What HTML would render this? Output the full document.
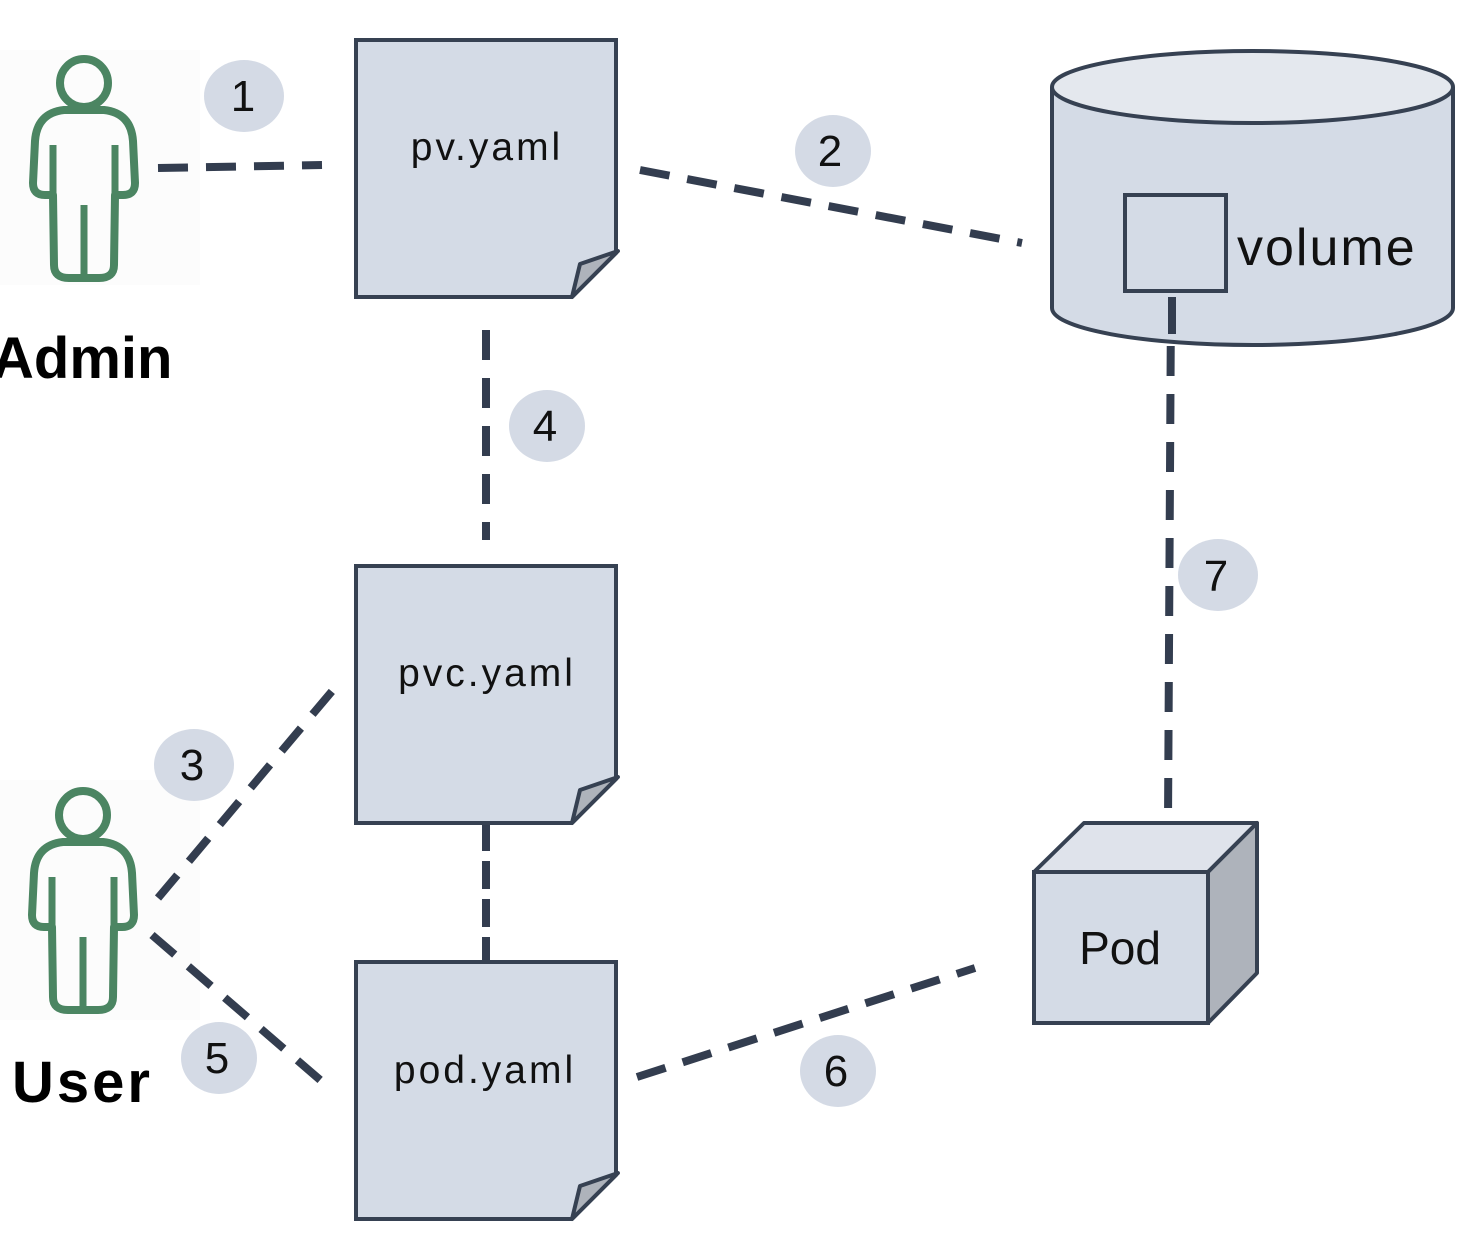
<!DOCTYPE html>
<html><head><meta charset="utf-8"><style>html,body{margin:0;padding:0;background:#fff}svg{display:block}</style></head>
<body>
<svg width="1474" height="1240" viewBox="0 0 1474 1240" xmlns="http://www.w3.org/2000/svg" font-family="Liberation Sans, sans-serif">
<defs>
<g id="person" fill="none" stroke="#4b8562" stroke-width="8" stroke-linejoin="round">
<circle cx="0" cy="0" r="24"/>
<path d="M -20,27 Q -47,30 -49,58 L -51,100 Q -51,112 -39,112 L -31,112 L -30,182 Q -30,195 -15,195 L 15,195 Q 30,195 30,182 L 31,112 L 39,112 Q 51,112 51,100 L 49,58 Q 47,30 20,27 Z"/>
<path d="M -31,62 L -31,112 M 31,62 L 31,112 M 0,122 L 0,195" stroke-width="7"/>
</g>
<g id="doc">
<path d="M356,0 H616 V213 L572,257 H356 Z" fill="#d4dbe6" stroke="#364152" stroke-width="4"/>
<path d="M572,257 L580,224 L618,211 Z" fill="#aeb3bb" stroke="#364152" stroke-width="4" stroke-linejoin="round"/>
</g>
</defs>
<rect x="0" y="50" width="200" height="235" fill="#fcfcfc"/>
<rect x="0" y="780" width="200" height="240" fill="#fcfcfc"/>
<use href="#person" x="84" y="83"/>
<use href="#person" x="83" y="815"/>
<text x="-8" y="378" font-size="58" font-weight="bold" fill="#000">Admin</text>
<text x="12" y="1102" font-size="58" font-weight="bold" fill="#000" letter-spacing="3">User</text>

<g stroke="#333d4f" stroke-width="8" fill="none" stroke-dasharray="30 18">
<line x1="158" y1="168" x2="322" y2="165"/>
<line x1="640" y1="170" x2="1022" y2="243"/>
<line x1="486" y1="330" x2="486" y2="540"/>
<line x1="158" y1="898" x2="333" y2="690"/>
<line x1="152" y1="935" x2="326" y2="1085"/>
<line x1="637" y1="1077" x2="975" y2="968"/>
<line x1="1171" y1="298" x2="1168" y2="822"/>
<line x1="486" y1="823" x2="486" y2="964" stroke-dasharray="28 10"/>
</g>

<use href="#doc" x="0" y="40"/>
<use href="#doc" x="0" y="566"/>
<use href="#doc" x="0" y="962"/>
<g font-size="39" fill="#111" text-anchor="middle" letter-spacing="3">
<text x="487" y="160">pv.yaml</text>
<text x="487" y="686">pvc.yaml</text>
<text x="485" y="1083">pod.yaml</text>
</g>

<path d="M1052,87 V308 A200.5,37 0 0 0 1453,308 V87" fill="#d4dbe6" stroke="#364152" stroke-width="4"/>
<ellipse cx="1252.5" cy="87" rx="200.5" ry="36" fill="#e4e8ee" stroke="#364152" stroke-width="4"/>
<rect x="1125" y="195" width="101" height="96" fill="#d4dbe6" stroke="#364152" stroke-width="4"/>
<text x="1237" y="265" font-size="52" fill="#111" letter-spacing="2">volume</text>
<line x1="1172" y1="297" x2="1172" y2="334" stroke="#333d4f" stroke-width="8"/>

<path d="M1034,872 L1084,823 H1257 L1208,872 Z" fill="#dfe3eb" stroke="#364152" stroke-width="4" stroke-linejoin="round"/>
<path d="M1208,872 L1257,823 V973 L1208,1023 Z" fill="#aeb3bb" stroke="#364152" stroke-width="4" stroke-linejoin="round"/>
<rect x="1034" y="872" width="174" height="151" fill="#d4dbe6" stroke="#364152" stroke-width="4"/>
<text x="1120" y="964" font-size="46" fill="#111" text-anchor="middle">Pod</text>

<g fill="#d4dae5">
<ellipse cx="244" cy="96" rx="40" ry="36"/>
<ellipse cx="833" cy="151" rx="38" ry="36"/>
<ellipse cx="547" cy="426" rx="38" ry="36"/>
<ellipse cx="1218" cy="575" rx="40" ry="36"/>
<ellipse cx="194" cy="765" rx="40" ry="36"/>
<ellipse cx="219" cy="1058" rx="38" ry="36"/>
<ellipse cx="838" cy="1071" rx="38" ry="36"/>
</g>
<g font-size="44" fill="#111" text-anchor="middle">
<text x="243" y="111">1</text>
<text x="830" y="166">2</text>
<text x="545" y="441">4</text>
<text x="1216" y="591">7</text>
<text x="192" y="780">3</text>
<text x="217" y="1073">5</text>
<text x="836" y="1086">6</text>
</g>
</svg>
</body></html>
